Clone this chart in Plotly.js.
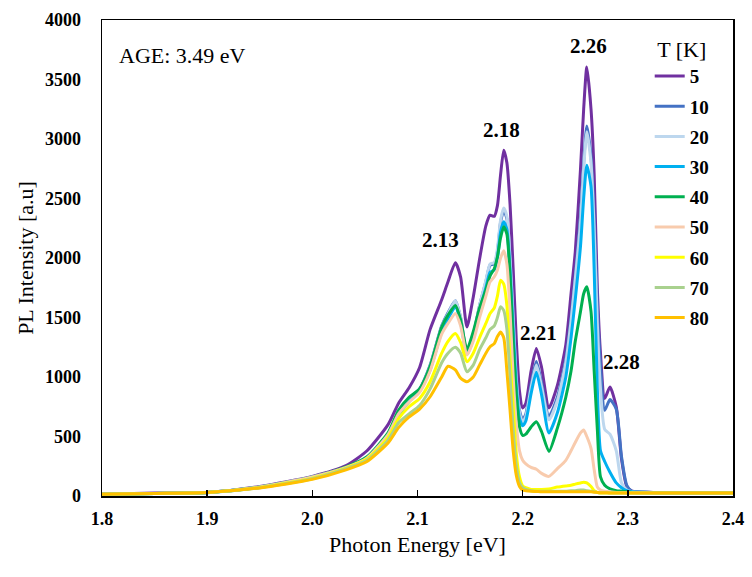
<!DOCTYPE html>
<html>
<head>
<meta charset="utf-8">
<script src="https://cdn.plot.ly/plotly-3.0.1.min.js"></script>
<style>html,body{margin:0;padding:0;background:#fff;}#chart{width:752px;height:577px;}</style>
</head>
<body>
<div id="chart"></div>
<script>
// Photon energy grid [eV]
const energy = [1.80, 1.85, 1.90, 1.95, 2.00, 2.032, 2.052, 2.072, 2.082, 2.092,
  2.102, 2.112, 2.123, 2.129, 2.136, 2.141, 2.147, 2.153, 2.159, 2.165,
  2.169, 2.173, 2.176, 2.179, 2.182, 2.185, 2.188, 2.191, 2.194, 2.197,
  2.200, 2.203, 2.208, 2.213, 2.218, 2.225, 2.233, 2.241, 2.246, 2.250,
  2.255, 2.258, 2.261, 2.265, 2.268, 2.271, 2.274, 2.278, 2.283, 2.289,
  2.294, 2.299, 2.304, 2.324, 2.354, 2.40];

const temps = ['5', '10', '20', '30', '40', '50', '60', '70', '80'];
const colors = ['#7030A0', '#4472C4', '#BDD7EE', '#00B0F0', '#00B050', '#F8CBAD', '#FFFF00', '#A9D18E', '#FFC000'];

const pl5 = [15,25,30,80,165, 255,380,600,780,910, 1080,1400,1650,1800,1960, 1840,1420,1670,1990,2270,
  2360,2350,2440,2700,2905, 2800,2450,1900,1300,880, 740,780,1050,1240,1080, 740,930,1270,1700,2050,
  2750,3250,3605,3250,2700, 1750,1200,820,915,750, 310,80,40,30,25, 25];
const pl10 = [15,22,30,75,160, 240,320,520,700,815, 900,1100,1430,1540,1640, 1500,1200,1350,1600,1800,
  1940,1950,2050,2300,2400, 2330,2000,1500,1000,720, 640,690,940,1130,950, 670,830,1150,1500,1850,
  2350,2800,3110,2850,2350, 1600,1100,720,810,730, 330,90,40,30,25, 25];
const pl20 = [15,22,30,75,160, 240,320,520,690,805, 890,1090,1420,1530,1640, 1500,1190,1340,1600,1810,
  1950,1960,2080,2320,2420, 2350,2000,1500,980,700, 620,670,910,1100,920, 640,800,1120,1470,1820,
  2300,2750,3060,2800,2250, 1450,900,560,520,380, 110,50,35,28,25, 25];
const pl30 = [12,20,28,72,155, 235,315,510,680,795, 880,1060,1380,1490,1590, 1460,1190,1320,1560,1750,
  1880,1900,2000,2220,2305, 2240,1900,1400,920,650, 590,630,860,1040,850, 530,700,1000,1330,1650,
  2100,2500,2780,2600,1900, 900,380,290,200,110, 70,45,35,28,25, 25];
const pl40 = [15,22,30,75,160, 245,330,530,720,830, 900,1090,1420,1520,1600, 1480,1230,1380,1580,1730,
  1850,1910,2010,2170,2262, 2200,1850,1300,850,580, 510,520,580,625,540, 375,570,830,1050,1300,
  1550,1700,1758,1550,1050, 560,160,90,60,45, 40,35,30,28,25, 25];
const pl50 = [15,22,30,75,160, 240,320,515,690,790, 870,1050,1360,1450,1534, 1430,1184,1300,1500,1680,
  1800,1842,1900,2000,2060, 1950,1550,1000,600,380, 300,270,240,225,190, 165,230,300,380,450,
  530,555,500,400,220, 75,50,40,35,30, 30,28,28,25,25, 25];
const pl60 = [15,22,30,72,150, 235,310,490,650,750, 820,960,1200,1300,1366, 1290,1128,1200,1330,1450,
  1534,1580,1680,1814,1780, 1600,1150,750,350,160, 85,70,55,55,55, 60,75,85,90,100,
  110,115,110,80,45, 30,25,25,25,25, 25,25,25,25,25, 25];
const pl70 = [15,22,30,70,145, 230,300,470,615,690, 760,900,1120,1200,1250, 1200,1044,1100,1230,1330,
  1400,1430,1500,1590,1560, 1400,1000,550,250,110, 70,55,45,40,40, 40,40,40,45,45,
  50,50,45,40,35, 30,28,28,25,25, 25,25,25,25,25, 25];
const pl80 = [15,22,30,68,140, 220,290,445,575,665, 730,834,1000,1090,1060, 990,960,1000,1100,1200,
  1254,1280,1340,1378,1330, 1050,720,380,170,80, 50,45,40,38,35, 35,35,35,35,35,
  35,35,35,35,32, 30,28,28,25,25, 25,25,25,25,25, 25];

const series = [pl5, pl10, pl20, pl30, pl40, pl50, pl60, pl70, pl80];

const peakLabels = ['2.13', '2.18', '2.21', '2.26', '2.28'];
const peakX = [2.122, 2.180, 2.215, 2.263, 2.294];
const peakY = [2150, 3075, 1370, 3785, 1125];

const FONT = 'Liberation Serif';

const traces = series.map((ys, i) => ({
  x: energy, y: ys, type: 'scatter', mode: 'lines', name: temps[i],
  legendgroup: 'g' + i,
  line: {color: colors[i], width: 3, shape: 'spline', smoothing: 0.6}
}));

const annotations = peakLabels.map((t, i) => ({
  x: peakX[i], y: peakY[i], xref: 'x', yref: 'y', text: t, showarrow: false,
  font: {family: FONT, size: 21, color: '#000', weight: 'bold'}
}));
annotations.push({
  x: 0.023, y: 0.925, xref: 'paper', yref: 'paper', xanchor: 'left', yanchor: 'middle',
  text: 'AGE: 3.49 eV', showarrow: false, font: {family: FONT, size: 22, color: '#000'}
});

const layout = {
  width: 752, height: 577,
  margin: {l: 102, r: 19, t: 20, b: 81},
  paper_bgcolor: '#fff', plot_bgcolor: '#fff',
  font: {family: FONT, color: '#000'},
  showlegend: true,
  legend: {
    x: 0.868, y: 0.982, xanchor: 'left', yanchor: 'top', bgcolor: 'rgba(0,0,0,0)',
    traceorder: 'grouped', tracegroupgap: 2.5,
    font: {family: FONT, size: 19, color: '#000', weight: 'bold'},
    title: {text: 'T [K]', side: 'top center', font: {family: FONT, size: 22, color: '#000', weight: 'normal'}}
  },
  xaxis: {
    range: [1.8, 2.4], dtick: 0.1, tick0: 1.8, tickformat: '.1f',
    ticks: 'inside', ticklen: 6, tickwidth: 1.5, tickcolor: '#000',
    showline: true, mirror: true, linecolor: '#000', linewidth: 1.5,
    showgrid: false, zeroline: false, ticklabelstandoff: 6,
    tickfont: {family: FONT, size: 18, color: '#000', weight: 'bold'},
    title: {text: 'Photon Energy [eV]', font: {family: FONT, size: 22, color: '#000'}, standoff: 8}
  },
  yaxis: {
    range: [0, 4000], dtick: 500, tick0: 0,
    ticks: '', showline: true, mirror: true, linecolor: '#000', linewidth: 1.5,
    showgrid: false, zeroline: false, ticklabelstandoff: 16,
    tickfont: {family: FONT, size: 18, color: '#000', weight: 'bold'},
    title: {text: 'PL Intensity [a.u]', font: {family: FONT, size: 22, color: '#000'}, standoff: 5}
  },
  annotations: annotations
};

Plotly.newPlot('chart', traces, layout, {displayModeBar: false, staticPlot: true});
</script>
</body>
</html>
